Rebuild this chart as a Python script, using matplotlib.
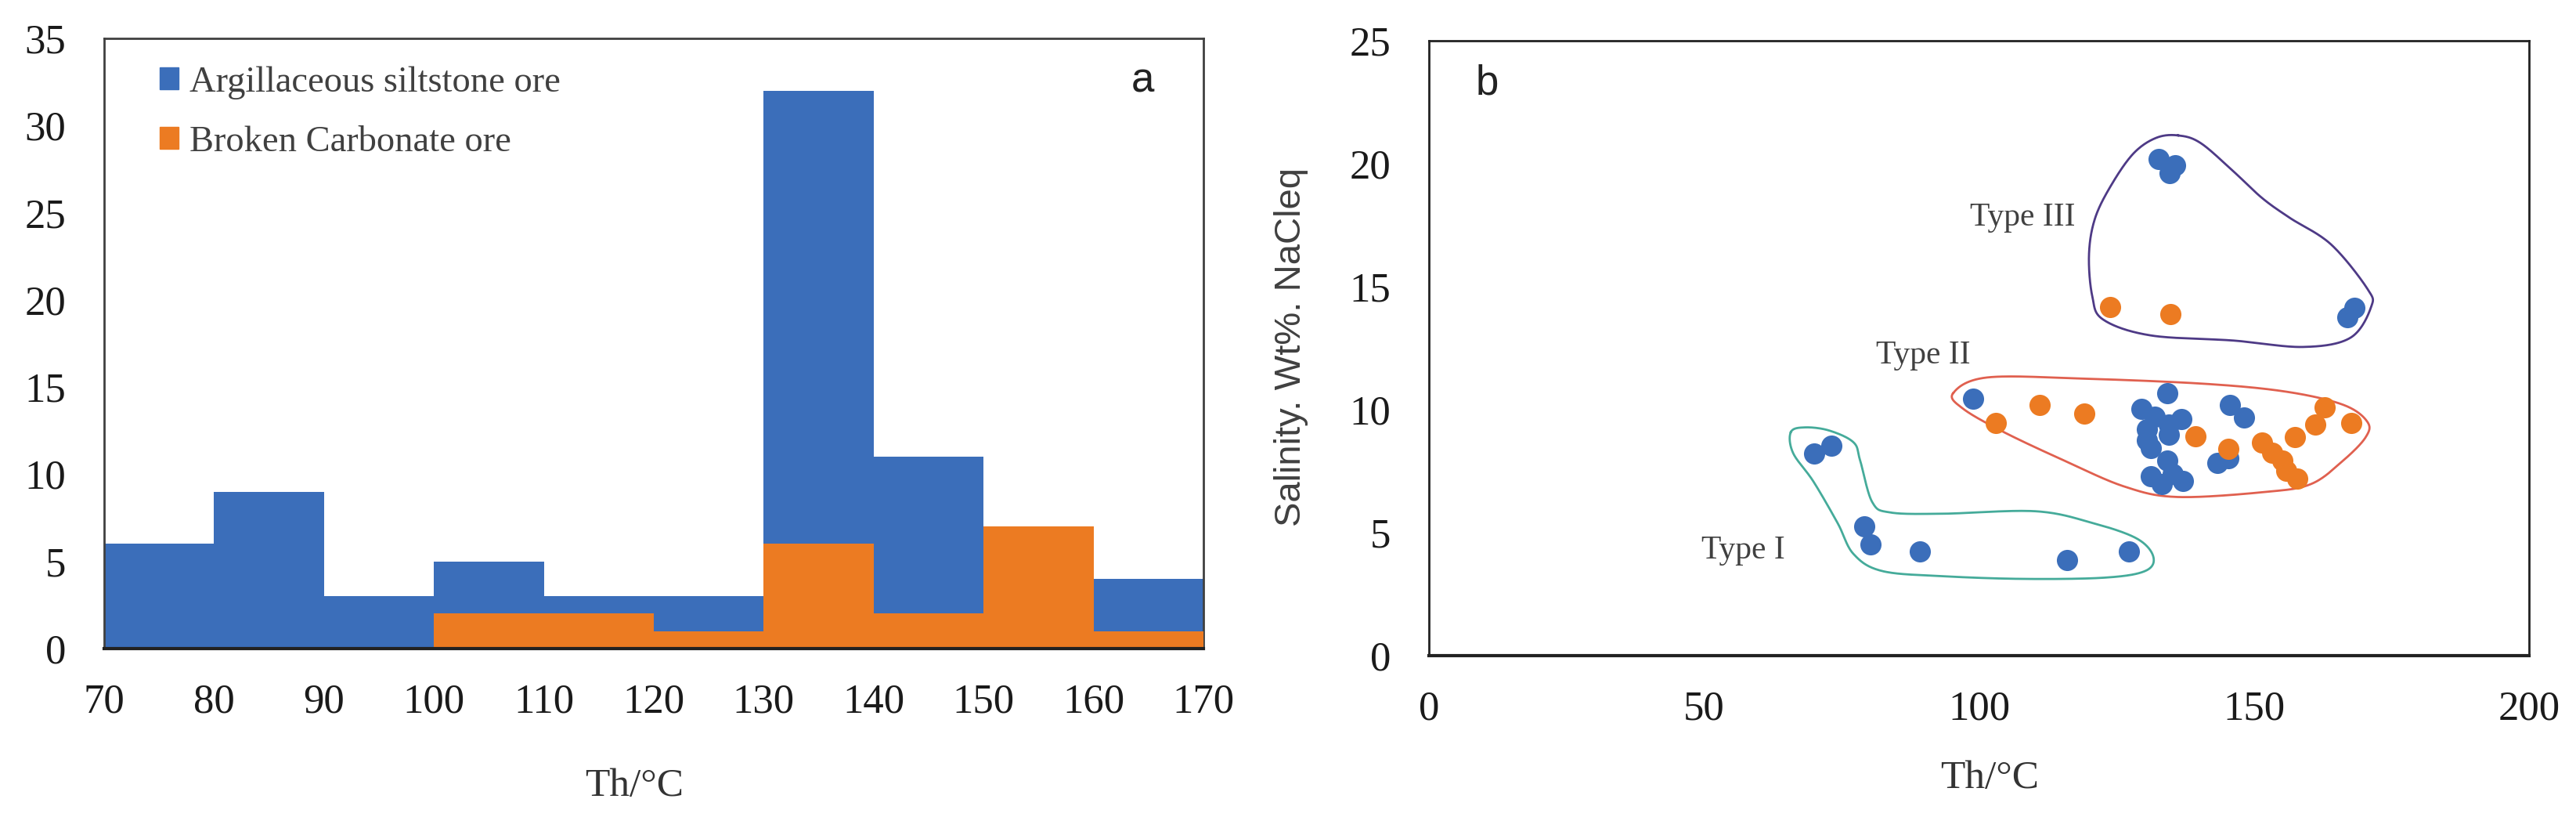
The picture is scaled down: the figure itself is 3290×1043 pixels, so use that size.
import numpy as np
from matplotlib import pyplot as plt
from matplotlib.patches import Patch

# ---- datos panel a (histograma) ----
bin_edges = [70, 80, 90, 100, 110, 120, 130, 140, 150, 160, 170]
argil_counts = [6, 9, 3, 5, 3, 3, 32, 11, 0, 4]
carb_counts = [0, 0, 0, 2, 2, 1, 6, 2, 7, 1]
hist_labels = ["Argillaceous siltstone ore", "Broken Carbonate ore"]

# ---- datos panel b (dispersion) ----
argil_th = [70.0, 73.1, 79.1, 80.3, 89.2, 116.0, 127.2,
            98.9, 134.2, 129.5, 132.0, 136.8, 134.5, 130.6, 134.5, 130.6, 131.3,
            134.2, 131.3, 135.3, 137.1, 133.2, 145.6, 148.2, 143.4, 145.3,
            132.7, 135.7, 134.7, 168.3, 167.0]
argil_sal = [8.22, 8.54, 5.25, 4.51, 4.24, 3.88, 4.24,
             10.44, 10.67, 10.04, 9.72, 9.62, 9.41, 9.20, 8.99, 8.77, 8.45,
             7.93, 7.30, 7.40, 7.09, 6.98, 10.20, 9.67, 7.82, 8.02,
             20.20, 19.94, 19.62, 14.13, 13.76]
carb_th = [103.0, 111.1, 119.2, 139.4, 145.3, 151.5, 153.3, 157.4, 155.2, 155.9,
           157.8, 161.1, 162.9, 167.7, 123.8, 134.8]
carb_sal = [9.46, 10.20, 9.83, 8.93, 8.40, 8.67, 8.24, 8.88, 7.93, 7.51,
            7.19, 9.41, 10.09, 9.46, 14.18, 13.87]

# contornos dibujados a mano alrededor de cada tipo
type1_x = [65.8, 68.4, 72.8, 77.2, 78.4, 80.6, 83.9, 93.4, 110.3, 120.7, 128.7, 131.7,
           130.2, 122.8, 108.1, 93.4, 82.4, 77.2, 74.3, 69.9, 66.2]
type1_y = [9.09, 9.28, 9.15, 8.67, 7.93, 6.24, 5.82, 5.77, 5.87, 5.39, 4.76, 4.02,
           3.44, 3.17, 3.12, 3.23, 3.44, 4.13, 5.39, 7.08, 8.24]
type2_x = [95.3, 101.5, 119.2, 141.2, 155.9, 166.2, 170.6, 170.3, 166.2, 160.4, 152.3,
           136.1, 126.5, 115.5, 104.5, 97.1]
type2_y = [10.67, 11.31, 11.26, 11.05, 10.73, 10.20, 9.51, 8.88, 7.93, 6.98, 6.66,
           6.45, 6.87, 7.93, 9.09, 10.04]
type3_x = [136.2, 140.3, 146.3, 151.5, 156.5, 164.0, 170.6, 171.3, 167.5, 158.9, 146.3,
           131.2, 122.6, 120.6, 120.0, 121.1, 124.1, 128.1, 132.2]
type3_y = [21.15, 20.84, 19.68, 18.60, 17.80, 16.72, 14.92, 14.18, 12.92, 12.55, 12.81,
           13.02, 13.66, 14.61, 16.30, 17.78, 19.15, 20.42, 21.05]
type_names = ["Type I", "Type II", "Type III"]
type_label_pos = [(57.2, 4.26), (89.9, 12.2), (108.0, 17.8)]

BLUE = "#3B6EBA"
ORANGE = "#EC7B22"
SERIF = "Liberation Serif"
SANS = "Liberation Sans"


def smooth_closed(xs, ys, n=30):
    # Catmull-Rom cerrado
    p = np.column_stack([xs, ys])
    m = len(p)
    t = np.linspace(0, 1, n, endpoint=False)[:, None]
    segs = []
    for i in range(m):
        p0, p1, p2, p3 = p[i - 1], p[i], p[(i + 1) % m], p[(i + 2) % m]
        seg = 0.5 * (2 * p1 + (-p0 + p2) * t + (2 * p0 - 5 * p1 + 4 * p2 - p3) * t ** 2
                     + (-p0 + 3 * p1 - 3 * p2 + p3) * t ** 3)
        segs.append(seg)
    out = np.vstack(segs + [segs[0][:1]])
    return out[:, 0], out[:, 1]


fig = plt.figure(figsize=(32.9, 10.43), dpi=100)
W, H = 3290, 1043
ax1 = fig.add_axes([133 / W, 1 - 828 / H, (1537 - 133) / W, (828 - 49) / H])
ax2 = fig.add_axes([1825 / W, 1 - 837 / H, (3230 - 1825) / W, (837 - 52) / H])

# ---- panel a ----
left = bin_edges[:-1]
ax1.bar(left, argil_counts, width=10, align="edge", color=BLUE, linewidth=0, zorder=2)
ax1.bar(left, carb_counts, width=10, align="edge", color=ORANGE, linewidth=0, zorder=3)
ax1.set_xlim(70, 170)
ax1.set_ylim(0, 35)
ax1.set_xticks(bin_edges)
ax1.set_yticks(range(0, 36, 5))

handles = [Patch(color=BLUE), Patch(color=ORANGE)]
ax1.legend(handles, hist_labels, loc="upper left", bbox_to_anchor=(0.0506, 0.955),
           frameon=False, borderpad=0, borderaxespad=0, handlelength=0.52,
           handleheight=0.52, handletextpad=0.3, labelspacing=0.72,
           prop={"family": SERIF, "size": 33.5}, labelcolor="#404040")
ax1.text(0.945, 0.93, "a", transform=ax1.transAxes, ha="center", va="center",
         fontsize=38, family=SANS, color="#222222")
ax1.text(0.482, -0.226, "Th/°C", transform=ax1.transAxes, ha="center", va="center",
         fontsize=37, family=SERIF, color="#333333")

# ---- panel b ----
for xs, ys, col in [(type1_x, type1_y, "#45AB9A"), (type2_x, type2_y, "#E0604F"),
                    (type3_x, type3_y, "#4E3A86")]:
    sx, sy = smooth_closed(xs, ys)
    ax2.plot(sx, sy, color=col, lw=2.0, zorder=2)
ax2.scatter(argil_th, argil_sal, s=380, color=BLUE, linewidths=0, zorder=3)
ax2.scatter(carb_th, carb_sal, s=380, color=ORANGE, linewidths=0, zorder=4)
for name, (tx, ty) in zip(type_names, type_label_pos):
    ax2.text(tx, ty, name, ha="center", va="center", fontsize=30, family=SERIF,
             color="#404040")
ax2.set_xlim(0, 200)
ax2.set_ylim(0, 25)
ax2.set_xticks(range(0, 201, 50))
ax2.set_yticks(range(0, 26, 5))
ax2.text(0.053, 0.93, "b", transform=ax2.transAxes, ha="center", va="center",
         fontsize=38, family=SANS, color="#222222")
ax2.text(0.51, -0.2, "Th/°C", transform=ax2.transAxes, ha="center", va="center",
         fontsize=37, family=SERIF, color="#333333")
ax2.text(-0.125, 0.502, "Salinity. Wt%. NaCleq", transform=ax2.transAxes,
         rotation=90, ha="center", va="center", fontsize=34, family=SANS,
         color="#404040")

for ax, frame in [(ax1, "#404040"), (ax2, "#222222")]:
    ax.tick_params(length=0, labelsize=38, colors="#1a1a1a")
    ax.tick_params(axis="y", pad=35)
    ax.tick_params(axis="x", pad=32)
    for lab in ax.get_xticklabels() + ax.get_yticklabels():
        lab.set_family(SERIF)
    for side in ["top", "left", "right"]:
        ax.spines[side].set_color(frame)
        ax.spines[side].set_linewidth(2.0)
    ax.spines["bottom"].set_color("#222222")
    ax.spines["bottom"].set_linewidth(3.0)
    ax.spines["bottom"].set_zorder(5)

fig.savefig("out.png", dpi=100, facecolor="white")
